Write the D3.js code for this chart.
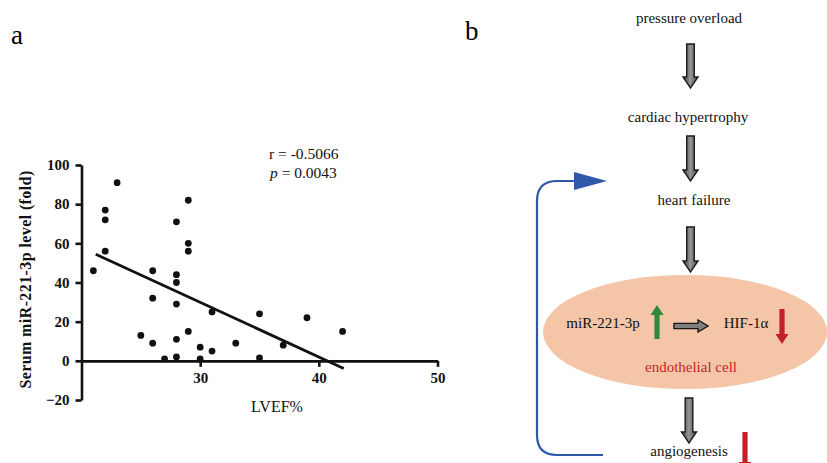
<!DOCTYPE html>
<html>
<head>
<meta charset="utf-8">
<script src="https://cdn.jsdelivr.net/npm/d3@7/dist/d3.min.js"></script>
<style>
    body { margin: 0; background: #fff; }
    svg { display: block; font-family: "Liberation Serif", "Times New Roman", serif; }
</style>
</head>
<body>
<svg id="chart"></svg>
<script>
// panel a: LVEF% vs serum miR-221-3p (fold)
const lvef = [21, 22, 22, 22, 23, 25, 26, 26, 26, 27, 28, 28, 28, 28, 28, 28, 29, 29, 29, 29, 30, 30, 31, 31, 33, 35, 35, 37, 39, 42];
const mir221 = [46, 77, 72, 56, 91, 13, 46, 32, 9, 1, 71, 44, 40, 29, 11, 2, 82, 60, 56, 15, 7, 1, 25, 5, 9, 24, 1.5, 8, 22, 15];
// fitted regression line end points
const fitX = [21.2, 42.1];
const fitY = [54.4, -3.9];
const xTicks = [30, 40, 50];
const yTicks = [-20, 0, 20, 40, 60, 80, 100];
const stats = ["r = -0.5066", "p = 0.0043"];

// panel b: flow
const steps = ["pressure overload", "cardiac hypertrophy", "heart failure", "angiogenesis"];
const cellLabels = ["miR-221-3p", "HIF-1α", "endothelial cell"];

const W = 827, H = 463;
const svg = d3.select("#chart").attr("width", W).attr("height", H).attr("viewBox", [0, 0, W, H]);

// panel labels
svg.append("text").attr("x", 11).attr("y", 44).attr("font-size", 27).text("a");
svg.append("text").attr("x", 465).attr("y", 40).attr("font-size", 27).text("b");

// ---------- scatter ----------
const x = d3.scaleLinear([20, 50], [81.5, 437.5]);
const y = d3.scaleLinear([-20, 100], [400, 165]);

const yAxis = svg.append("g")
    .attr("transform", `translate(${x(20)},0)`)
    .call(d3.axisLeft(y).tickValues(yTicks).tickSize(6).tickSizeOuter(0).tickPadding(6));

const xAxis = svg.append("g")
    .attr("transform", `translate(0,${y(0)})`)
    .call(d3.axisBottom(x).tickValues(xTicks).tickSize(6).tickSizeOuter(0).tickPadding(6));

[yAxis, xAxis].forEach(ax => {
    ax.selectAll("path, line").attr("stroke", "#111").attr("stroke-width", 2.6);
    ax.selectAll("text")
        .attr("fill", "#111")
        .attr("font-family", "Liberation Serif, serif")
        .attr("font-weight", "bold")
        .attr("font-size", 15);
});

svg.append("text")
    .attr("transform", `translate(31,${(y(-20) + y(100)) / 2 - 3}) rotate(-90)`)
    .attr("text-anchor", "middle")
    .attr("font-weight", "bold")
    .attr("font-size", 16)
    .attr("letter-spacing", 0.4)
    .attr("fill", "#111")
    .text("Serum miR-221-3p level (fold)");

svg.append("text")
    .attr("x", 277).attr("y", 412)
    .attr("text-anchor", "middle")
    .attr("font-size", 16)
    .attr("fill", "#111")
    .text("LVEF%");

svg.append("line")
    .attr("x1", x(fitX[0])).attr("y1", y(fitY[0]))
    .attr("x2", x(fitX[1])).attr("y2", y(fitY[1]))
    .attr("stroke", "#111").attr("stroke-width", 2.8);

svg.append("g").selectAll("circle")
    .data(d3.zip(lvef, mir221))
    .join("circle")
    .attr("cx", d => x(d[0]))
    .attr("cy", d => y(d[1]))
    .attr("r", 3.4)
    .attr("fill", "#111");

const st = svg.append("g").attr("font-size", 15.5).attr("fill", "#111");
st.append("text").attr("x", 269).attr("y", 159).text(stats[0]);
const pt = st.append("text").attr("x", 270).attr("y", 178);
pt.append("tspan").attr("font-style", "italic").text(stats[1].slice(0, 1));
pt.append("tspan").text(stats[1].slice(1));

// ---------- flow diagram ----------
function blockArrowDown(cx, y0, y1, hw = 3.8, headHw = 7.5, headLen = 11) {
    const yh = y1 - headLen;
    return `M${cx - hw},${y0}H${cx + hw}V${yh}H${cx + headHw}L${cx},${y1}L${cx - headHw},${yh}H${cx - hw}Z`;
}
function blockArrowRight(x0, x1, cy, hh = 2.6, headHh = 6, headLen = 10) {
    const xh = x1 - headLen;
    return `M${x0},${cy - hh}H${xh}V${cy - headHh}L${x1},${cy}L${xh},${cy + headHh}V${cy + hh}H${x0}Z`;
}
function solidArrow(cx, y0, y1, hw = 2.6, headHw = 6.5, headLen = 10) {
    const dir = Math.sign(y1 - y0);
    const yh = y1 - dir * headLen;
    return `M${cx - hw},${y0}H${cx + hw}V${yh}H${cx + headHw}L${cx},${y1}L${cx - headHw},${yh}H${cx - hw}Z`;
}

const grad = svg.append("defs").append("linearGradient").attr("id", "grayArrow")
    .attr("x1", "0").attr("x2", "1").attr("y1", "0").attr("y2", "0");
grad.append("stop").attr("offset", "0%").attr("stop-color", "#4a4a4a");
grad.append("stop").attr("offset", "50%").attr("stop-color", "#959595");
grad.append("stop").attr("offset", "100%").attr("stop-color", "#4a4a4a");

const flow = svg.append("g").attr("font-size", 15).attr("fill", "#111").attr("text-anchor", "middle");

// ellipse (endothelial cell)
svg.insert("ellipse", "g")
    .attr("cx", 685).attr("cy", 332).attr("rx", 142).attr("ry", 57)
    .attr("fill", "#f5c5a8");

flow.append("text").attr("x", 689).attr("y", 23).text(steps[0]);
flow.append("text").attr("x", 688).attr("y", 122).text(steps[1]);
flow.append("text").attr("x", 694).attr("y", 205).text(steps[2]);
flow.append("text").attr("x", 689).attr("y", 456).text(steps[3]);

const grayArrows = [[690.5, 44, 88], [690.5, 136, 181], [690.5, 227, 272], [689, 398, 443]];
flow.selectAll("path.gray")
    .data(grayArrows)
    .join("path")
    .attr("class", "gray")
    .attr("d", d => blockArrowDown(d[0], d[1], d[2]))
    .attr("fill", "url(#grayArrow)")
    .attr("stroke", "#1a1a1a").attr("stroke-width", 1.4);

// inside the cell
flow.append("text").attr("x", 603).attr("y", 328).text(cellLabels[0]);
flow.append("text").attr("x", 746).attr("y", 328).text(cellLabels[1]);
flow.append("text").attr("x", 691).attr("y", 372).attr("fill", "#c3272b").text(cellLabels[2]);

flow.append("path")
    .attr("d", blockArrowRight(674, 708, 326))
    .attr("fill", "#808080").attr("stroke", "#1a1a1a").attr("stroke-width", 1.4);

flow.append("path").attr("d", solidArrow(657, 339, 305)).attr("fill", "#2f8a3a");
flow.append("path").attr("d", solidArrow(782, 309, 344)).attr("fill", "#c3202a");
flow.append("path").attr("d", solidArrow(745, 432, 472)).attr("fill", "#c3202a");

// feedback loop
svg.append("path")
    .attr("d", "M603,455H557Q537,455 537,435V201Q537,181 557,181H576")
    .attr("fill", "none").attr("stroke", "#2f58a8").attr("stroke-width", 2.2);
svg.append("path")
    .attr("d", "M574,172L607,181L574,190Z")
    .attr("fill", "#2f58a8");
</script>
</body>
</html>
